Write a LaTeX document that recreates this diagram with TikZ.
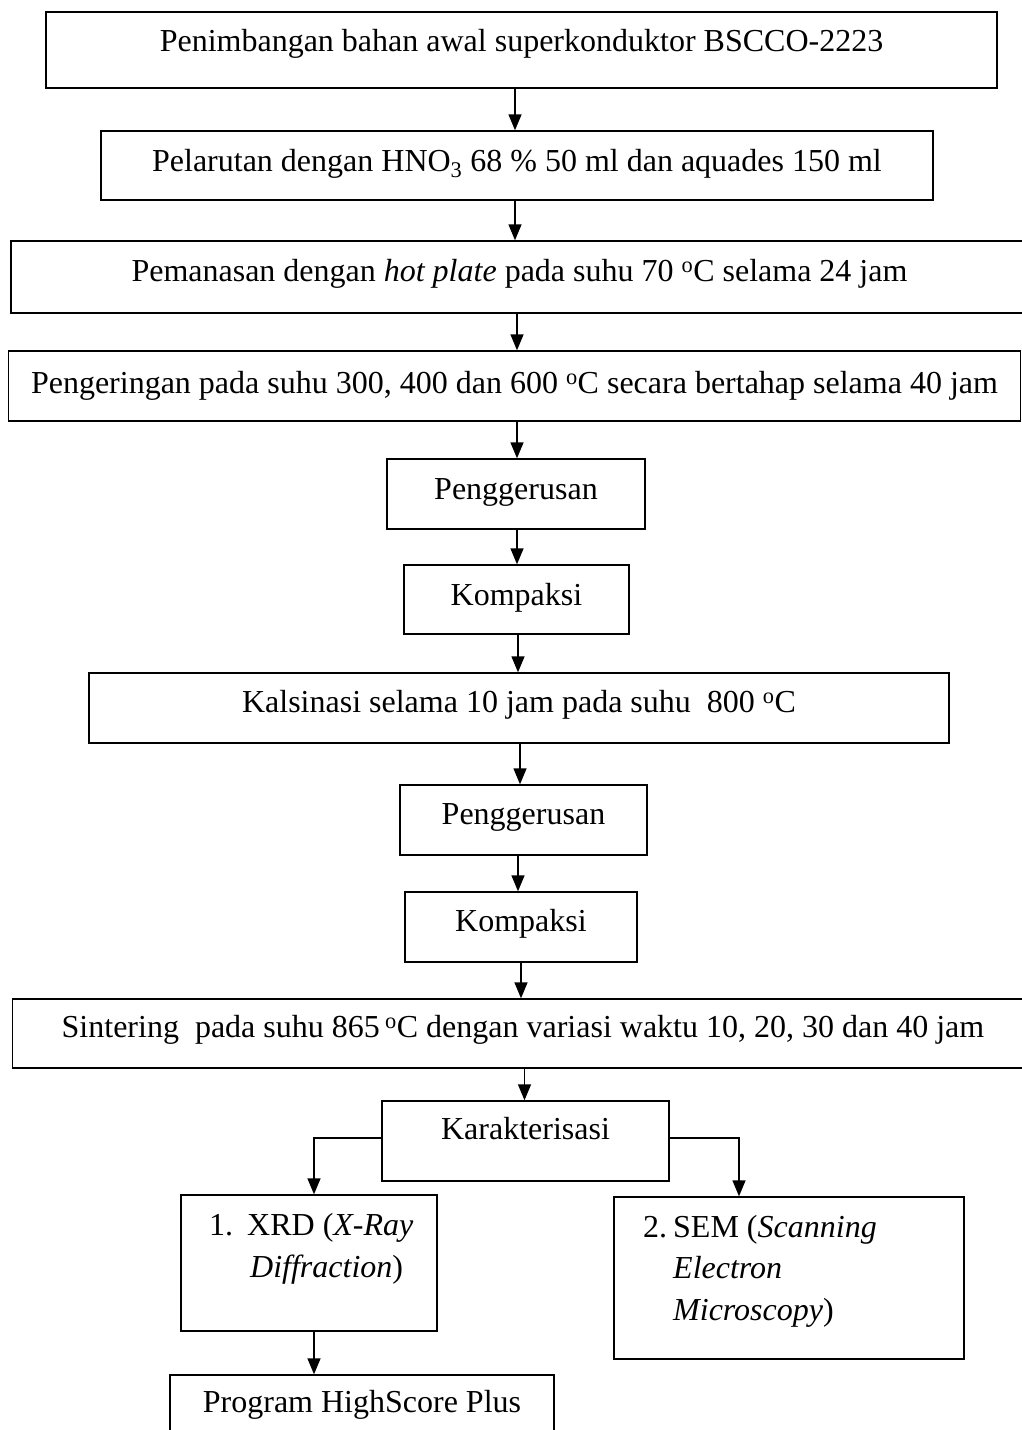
\documentclass[tikz,border=0pt]{standalone}
\usepackage{fontspec}
\setmainfont{Liberation Serif}
\usetikzlibrary{arrows.meta}
\begin{document}
\begin{tikzpicture}[x=1pt,y=-1pt,
  box/.style={draw, line width=1.4pt, inner sep=0pt},
  txt/.style={anchor=base, inner sep=0pt, font=\fontsize{32}{42}\selectfont},
  txtl/.style={anchor=base west, inner sep=0pt, font=\fontsize{32}{42}\selectfont},
  arr/.style={line width=1.4pt, -{Triangle[length=16pt,width=13pt]}}]
\useasboundingbox (0,0) rectangle (1022,1430);
\clip (0,0) rectangle (1022,1430);
\fill[white] (0,0) rectangle (1022,1430);

% boxes
\node[box, minimum width=951pt,  minimum height=76pt] (b1)   at (521.5,50) {};
\node[box, minimum width=832pt,  minimum height=69pt] (b2)   at (517,165.5) {};
\node[box, minimum width=1017pt, minimum height=72pt] (b3)   at (519.5,277) {};
\node[box, minimum width=1012pt, minimum height=70pt] (b4)   at (514.5,386) {};
\node[box, minimum width=258pt,  minimum height=70pt] (p1)   at (516,494) {};
\node[box, minimum width=225pt,  minimum height=69pt] (k1)   at (516.5,599.5) {};
\node[box, minimum width=860pt,  minimum height=70pt] (kal)  at (519,708) {};
\node[box, minimum width=247pt,  minimum height=70pt] (p2)   at (523.5,820) {};
\node[box, minimum width=232pt,  minimum height=70pt] (k2)   at (521,927) {};
\node[box, minimum width=1021pt, minimum height=69pt] (sin)  at (523,1033.5) {};
\node[box, minimum width=287pt,  minimum height=80pt] (kar)  at (525.5,1141) {};
\node[box, minimum width=256pt,  minimum height=136pt] (xrd) at (309,1263) {};
\node[box, minimum width=350pt,  minimum height=162pt] (sem) at (789,1278) {};
\node[box, minimum width=384pt,  minimum height=70pt] (prog) at (362,1410) {};

% texts
\node[txt] (t1) at ([yshift=-40pt]b1.north) {Penimbangan bahan awal superkonduktor BSCCO-2223};
\node[txt] (t2) at ([yshift=-41pt]b2.north) {Pelarutan dengan HNO\textsubscript{3} 68 \% 50 ml dan aquades 150 ml};
\node[txt] (t3) at ([yshift=-41pt]b3.north) {Pemanasan dengan \textit{hot plate} pada suhu 70 \textsuperscript{o}C selama 24 jam};
\node[txt] (t4) at ([yshift=-43pt]b4.north) {Pengeringan pada suhu 300, 400 dan 600 \textsuperscript{o}C secara bertahap selama 40 jam};
\node[txt] (tp1) at ([yshift=-41pt]p1.north) {Penggerusan};
\node[txt] (tk1) at ([yshift=-41pt]k1.north) {Kompaksi};
\node[txt] (tkal) at ([yshift=-40pt]kal.north) {Kalsinasi selama 10 jam pada suhu\ \ 800 \textsuperscript{o}C};
\node[txt] (tp2) at ([yshift=-40pt]p2.north) {Penggerusan};
\node[txt] (tk2) at ([yshift=-40pt]k2.north) {Kompaksi};
\node[txt] (tsin) at ([yshift=-39pt]sin.north) {Sintering\ \ pada suhu 865\,\textsuperscript{o}C dengan variasi waktu 10, 20, 30 dan 40 jam};
\node[txt] (tkar) at ([yshift=-39pt]kar.north) {Karakterisasi};
\node[txtl] (tx1) at (209,1235) {1.};
\node[txtl] (tx2) at (247,1235) {XRD (\textit{X-Ray}};
\node[txtl] (tx3) at (250,1277) {\textit{Diffraction})};
\node[txtl] (ts1) at (643,1237) {2.};
\node[txtl] (ts2) at (673,1237) {SEM (\textit{Scanning}};
\node[txtl] (ts3) at (673,1278) {\textit{Electron}};
\node[txtl] (ts4) at (673,1320) {\textit{Microscopy})};
\node[txt] (tprog) at ([yshift=-38pt]prog.north) {Program HighScore Plus};

% connectors
\draw[arr] (515,0 |- b1.south) -- (515,0 |- b2.north);
\draw[arr] (515,0 |- b2.south) -- (515,0 |- b3.north);
\draw[arr] (517,0 |- b3.south) -- (517,0 |- b4.north);
\draw[arr] (517,0 |- b4.south) -- (517,0 |- p1.north);
\draw[arr] (517,0 |- p1.south) -- (517,0 |- k1.north);
\draw[arr] (518,0 |- k1.south) -- (518,0 |- kal.north);
\draw[arr] (520,0 |- kal.south) -- (520,0 |- p2.north);
\draw[arr] (518,0 |- p2.south) -- (518,0 |- k2.north);
\draw[arr] (521,0 |- k2.south) -- (521,0 |- sin.north);
\draw[arr] (524.5,0 |- sin.south) -- (524.5,0 |- kar.north);
\draw[arr] ([yshift=3pt]kar.west) -| (314,0 |- xrd.north);
\draw[arr] ([yshift=3pt]kar.east) -| (739,0 |- sem.north);
\draw[arr] (314,0 |- xrd.south) -- (314,0 |- prog.north);
\end{tikzpicture}
\end{document}
